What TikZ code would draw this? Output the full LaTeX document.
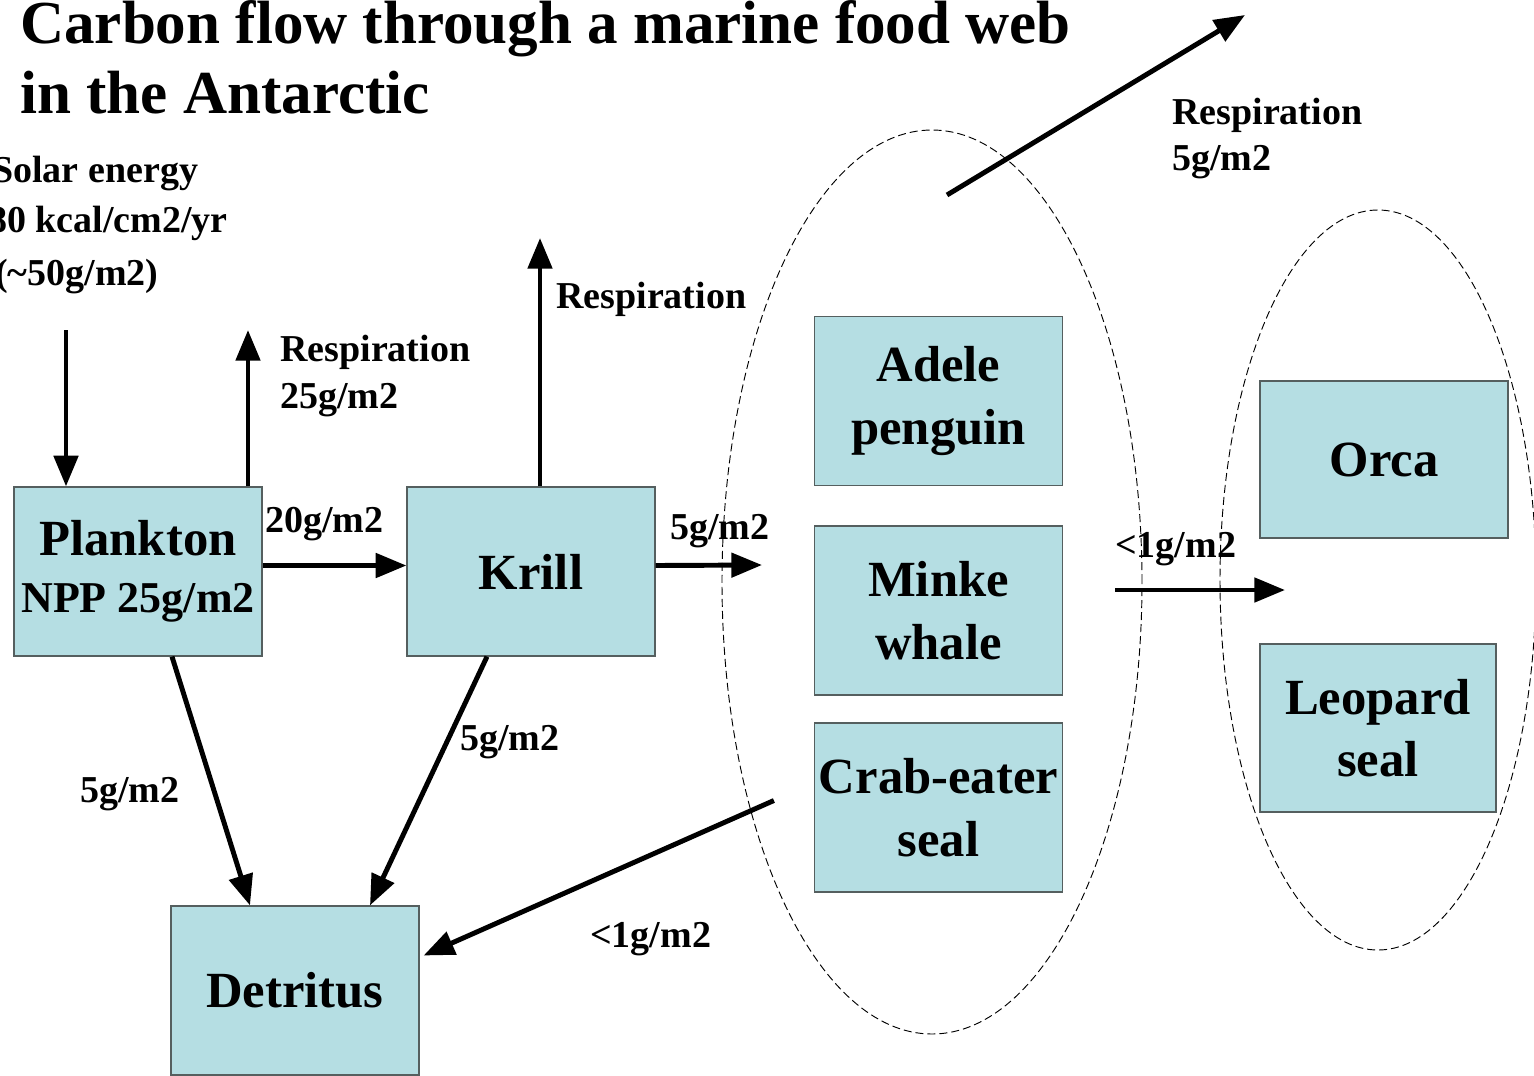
\documentclass[tikz,border=0pt]{standalone}
\usepackage{fontspec}
\setmainfont{Liberation Serif}
\usetikzlibrary{arrows.meta,calc,shapes.geometric}
\definecolor{boxfill}{RGB}{181,222,227}
\definecolor{boxline}{RGB}{85,95,95}
\begin{document}
\begin{tikzpicture}[x=0.75pt,y=-0.75pt,
  organism/.style={draw=boxline,line width=0.9pt,fill=boxfill,align=center,inner sep=0pt,
    minimum width=186pt,minimum height=126.75pt,
    font=\bfseries\fontsize{38}{47}\selectfont},
  flow/.style={line width=3.7pt,-{Triangle[length=23pt,width=18pt]}},
  lbl/.style={anchor=base west,inner sep=0pt,align=left,
    font=\bfseries\fontsize{28.5}{35}\selectfont},
  heading/.style={anchor=base west,inner sep=0pt,font=\bfseries\fontsize{45.8}{52}\selectfont},
  group/.style={draw,ellipse,dash pattern=on 6pt off 3pt,line width=0.7pt,inner sep=0pt}]
\clip (0,0) rectangle (1534,1075);
\fill[white] (0,0) rectangle (1534,1075);

% title
\node[heading] (t1) at (20,43) {Carbon flow through a marine food web};
\node[heading] (t2) at (20,113) {in the Antarctic};

% groupings of consumers
\node[group,minimum width=315pt,minimum height=678pt] (web1) at (932,582) {};
\node[group,minimum width=237pt,minimum height=555pt] (web2) at (1378,580) {};

% organisms
\node[organism] (pl) at (138,571.5)
  {Plankton\\[-4pt]{\fontsize{33}{40}\selectfont NPP 25g/m2}};
\node[organism] (kr) at (531,571.5) {Krill};
\node[organism] (det) at (295,990.5) {Detritus};
\node[organism] (adele) at (938.5,401) {Adele\\penguin};
\node[organism] (minke) at (938.5,610.5) {Minke\\whale};
\node[organism] (crab) at (938.5,807.5) {Crab-eater\\seal};
\node[organism,minimum width=186pt,minimum height=117.75pt] (orca) at (1384,459.5) {Orca};
\node[organism,minimum width=177pt,minimum height=126pt] (leo) at (1378,728) {Leopard\\seal};

% end points of the flows
\coordinate (sun) at (66,330);
\coordinate (respPl) at (248,330);
\coordinate (respKr) at (540,238);
\coordinate (plOut) at ($(pl.east)+(0,-6)$);
\coordinate (krIn) at ($(kr.west)+(0,-6)$);
\coordinate (krOut) at ($(kr.east)+(0,-6)$);
\coordinate (toWeb1) at (762,565);
\coordinate (fromWeb1) at (1115,590);
\coordinate (toWeb2) at (1285,590);
\coordinate (respWebA) at (947,195);
\coordinate (respWebB) at (1245,15);
\coordinate (crabOut) at ($(crab.west)+(-40,-7)$);

% flows
\draw[flow] (sun) -- (pl.north -| sun);
\draw[flow] (pl.north -| respPl) -- (respPl);
\draw[flow] (kr.north -| respKr) -- (respKr);
\draw[flow] (plOut) -- (krIn);
\draw[flow] (krOut) -- (toWeb1);
\draw[flow] (fromWeb1) -- (toWeb2);
\draw[flow] (respWebA) -- (respWebB);
\draw[flow] ($(pl.south)+(34,0)$) -- ($(det.north)+(-45,0)$);
\draw[flow] ($(kr.south)+(-44,0)$) -- ($(det.north)+(75,0)$);
\draw[flow] (crabOut) -- ($(det.east)+(4,-35)$);

% labels
\node[lbl] (solar) at (-8,182) {Solar energy};
\node[lbl] (solar2) at (-12,232) {80 kcal/cm2/yr};
\node[lbl] (solar3) at (-5,285) {(\textasciitilde50g/m2)};
\node[lbl] (lrp1) at (280,361) {Respiration};
\node[lbl] (lrp2) at (280,408) {25g/m2};
\node[lbl] (lrk) at (556,308) {Respiration};
\node[lbl] (l20) at (265,532) {20g/m2};
\node[lbl] (l5a) at (670,539) {5g/m2};
\node[lbl] (l1a) at (1115,557) {<1g/m2};
\node[lbl] (lrw1) at (1172,124) {Respiration};
\node[lbl] (lrw2) at (1172,170) {5g/m2};
\node[lbl] (l5b) at (80,802) {5g/m2};
\node[lbl] (l5c) at (460,750) {5g/m2};
\node[lbl] (l1b) at (590,947) {<1g/m2};
\end{tikzpicture}
\end{document}
